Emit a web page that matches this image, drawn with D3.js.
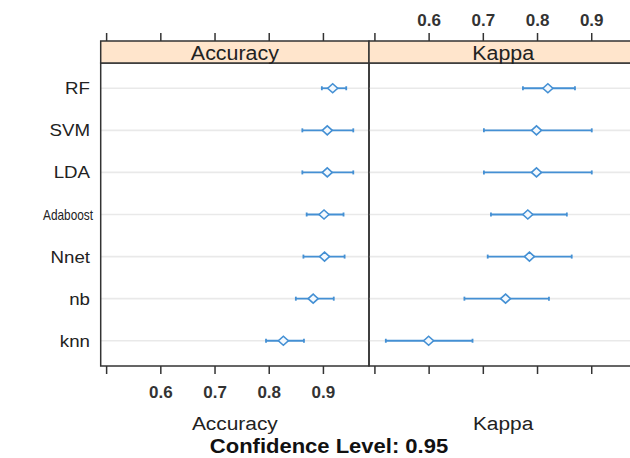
<!DOCTYPE html>
<html>
<head>
<meta charset="utf-8">
<script src="https://cdn.jsdelivr.net/npm/d3@7"></script>
<style>
  body { margin: 0; background: #fff; }
  svg { display: block; font-family: "Liberation Sans", Arial, sans-serif; }
</style>
</head>
<body>
<svg id="chart" width="630" height="458"></svg>
<script>
// models, top to bottom
const models = ["RF", "SVM", "LDA", "Adaboost", "Nnet", "nb", "knn"];
const metrics = ["Accuracy", "Kappa"];

// point estimate and 95% interval
const accMid = [0.918, 0.908, 0.908, 0.902, 0.903, 0.882, 0.827];
const accLo  = [0.898, 0.862, 0.862, 0.870, 0.864, 0.850, 0.795];
const accHi  = [0.943, 0.956, 0.956, 0.938, 0.940, 0.920, 0.865];

const kapMid = [0.820, 0.799, 0.799, 0.783, 0.786, 0.742, 0.600];
const kapLo  = [0.774, 0.702, 0.702, 0.715, 0.709, 0.666, 0.521];
const kapHi  = [0.870, 0.901, 0.901, 0.855, 0.864, 0.822, 0.681];

const tickVals = [0.5, 0.6, 0.7, 0.8, 0.9];
const tickLabs = ["", "0.6", "0.7", "0.8", "0.9"];

const panels = [
  { name: metrics[0], mid: accMid, lo: accLo, hi: accHi },
  { name: metrics[1], mid: kapMid, lo: kapLo, hi: kapHi }
];

const svg = d3.select("#chart");
const blue = "#4490d4";
const panelTop = 63, panelBottom = 366, stripTop = 41;
const panelLeft = 100.7, pw = 268.3;

const y = d3.scalePoint().domain(models).range([panelTop, panelBottom]).padding(0.6);

// stretched text helper (reference text is a bit wide)
function label(x, yy, txt, size, anchor, weight, sx, col) {
  return svg.append("text")
    .attr("transform", `translate(${x},${yy}) scale(${sx},1)`)
    .attr("text-anchor", anchor)
    .attr("font-size", size)
    .attr("font-weight", weight)
    .attr("fill", col || "#222")
    .text(txt);
}

panels.forEach((p, i) => {
  const x0 = panelLeft + i * pw;
  const x = d3.scaleLinear().domain([0.49, 0.985]).range([x0, x0 + pw]);
  const g = svg.append("g");

  // grid lines
  g.selectAll("line.grid")
    .data(models)
    .enter()
    .append("line")
    .attr("class", "grid")
    .attr("x1", x0).attr("x2", x0 + pw)
    .attr("y1", d => y(d)).attr("y2", d => y(d))
    .attr("stroke", "#e9e9e9")
    .attr("stroke-width", 1.6);

  const rows = models.map((m, j) => ({ m, mid: p.mid[j], lo: p.lo[j], hi: p.hi[j] }));

  // interval lines
  g.selectAll("line.ci")
    .data(rows)
    .enter()
    .append("line")
    .attr("class", "ci")
    .attr("x1", d => x(d.lo)).attr("x2", d => x(d.hi))
    .attr("y1", d => y(d.m)).attr("y2", d => y(d.m))
    .attr("stroke", blue)
    .attr("stroke-width", 1.8);

  // end caps
  ["lo", "hi"].forEach(k => {
    g.selectAll("line.cap" + k)
      .data(rows)
      .enter()
      .append("line")
      .attr("class", "cap" + k)
      .attr("x1", d => x(d[k])).attr("x2", d => x(d[k]))
      .attr("y1", d => y(d.m) - 2).attr("y2", d => y(d.m) + 2)
      .attr("stroke", blue)
      .attr("stroke-width", 1.8);
  });

  // diamonds
  g.selectAll("path.pt")
    .data(rows)
    .enter()
    .append("path")
    .attr("class", "pt")
    .attr("d", d => {
      const cx = x(d.mid), cy = y(d.m);
      return `M${cx - 5},${cy}L${cx},${cy - 4.5}L${cx + 5},${cy}L${cx},${cy + 4.5}Z`;
    })
    .attr("fill", "#f4f9fe")
    .attr("stroke", blue)
    .attr("stroke-width", 1.6);

  // panel border
  g.append("rect")
    .attr("x", x0).attr("y", panelTop)
    .attr("width", pw).attr("height", panelBottom - panelTop)
    .attr("fill", "none")
    .attr("stroke", "#333")
    .attr("stroke-width", 1.5);

  // strip
  g.append("rect")
    .attr("x", x0).attr("y", stripTop)
    .attr("width", pw).attr("height", panelTop - stripTop)
    .attr("fill", "#ffe5cc")
    .attr("stroke", "#333")
    .attr("stroke-width", 1.5);
  label(x0 + pw / 2, 59.5, p.name, 20, "middle", "normal", 1.07);

  // axes: lattice alternates labels, bottom for first panel, top for second
  const axB = d3.axisBottom(x).tickValues(tickVals).tickSize(8).tickSizeOuter(0)
    .tickFormat((d, k) => i === 0 ? tickLabs[k] : "");
  const axT = d3.axisTop(x).tickValues(tickVals).tickSize(8).tickSizeOuter(0)
    .tickFormat((d, k) => i === 1 ? tickLabs[k] : "");

  [[axB, panelBottom, 1], [axT, stripTop, -1]].forEach(([ax, yy, dir]) => {
    const a = svg.append("g").attr("transform", `translate(0,${yy})`).call(ax);
    a.select(".domain").remove();
    a.selectAll(".tick line").attr("stroke", "#333").attr("stroke-width", 1.5);
    a.selectAll(".tick text")
      .attr("font-family", "Liberation Sans, Arial, sans-serif")
      .attr("font-size", 17)
      .attr("font-weight", "bold")
      .attr("fill", "#333")
      .attr("y", dir > 0 ? 32 : -15)
      .attr("dy", 0);
  });

  // x label under each panel
  label(x0 + pw / 2, 430, p.name, 19, "middle", "normal", 1.1);
});

// model names, long ones fitted into the label column
const maxLabelW = 50;
models.forEach(m => {
  const t = label(90, y(m) + 6, m, 17, "end", "normal", 1.1);
  const w = t.node().getComputedTextLength() * 1.1;
  if (w > maxLabelW) {
    t.attr("transform", `translate(93,${y(m) + 5.5}) scale(1,1)`)
      .attr("font-size", 14.5)
      .attr("textLength", maxLabelW)
      .attr("lengthAdjust", "spacingAndGlyphs");
  }
});

// bottom title
label(329, 453, "Confidence Level: 0.95", 20, "middle", "bold", 1.1, "#111");
</script>
</body>
</html>
